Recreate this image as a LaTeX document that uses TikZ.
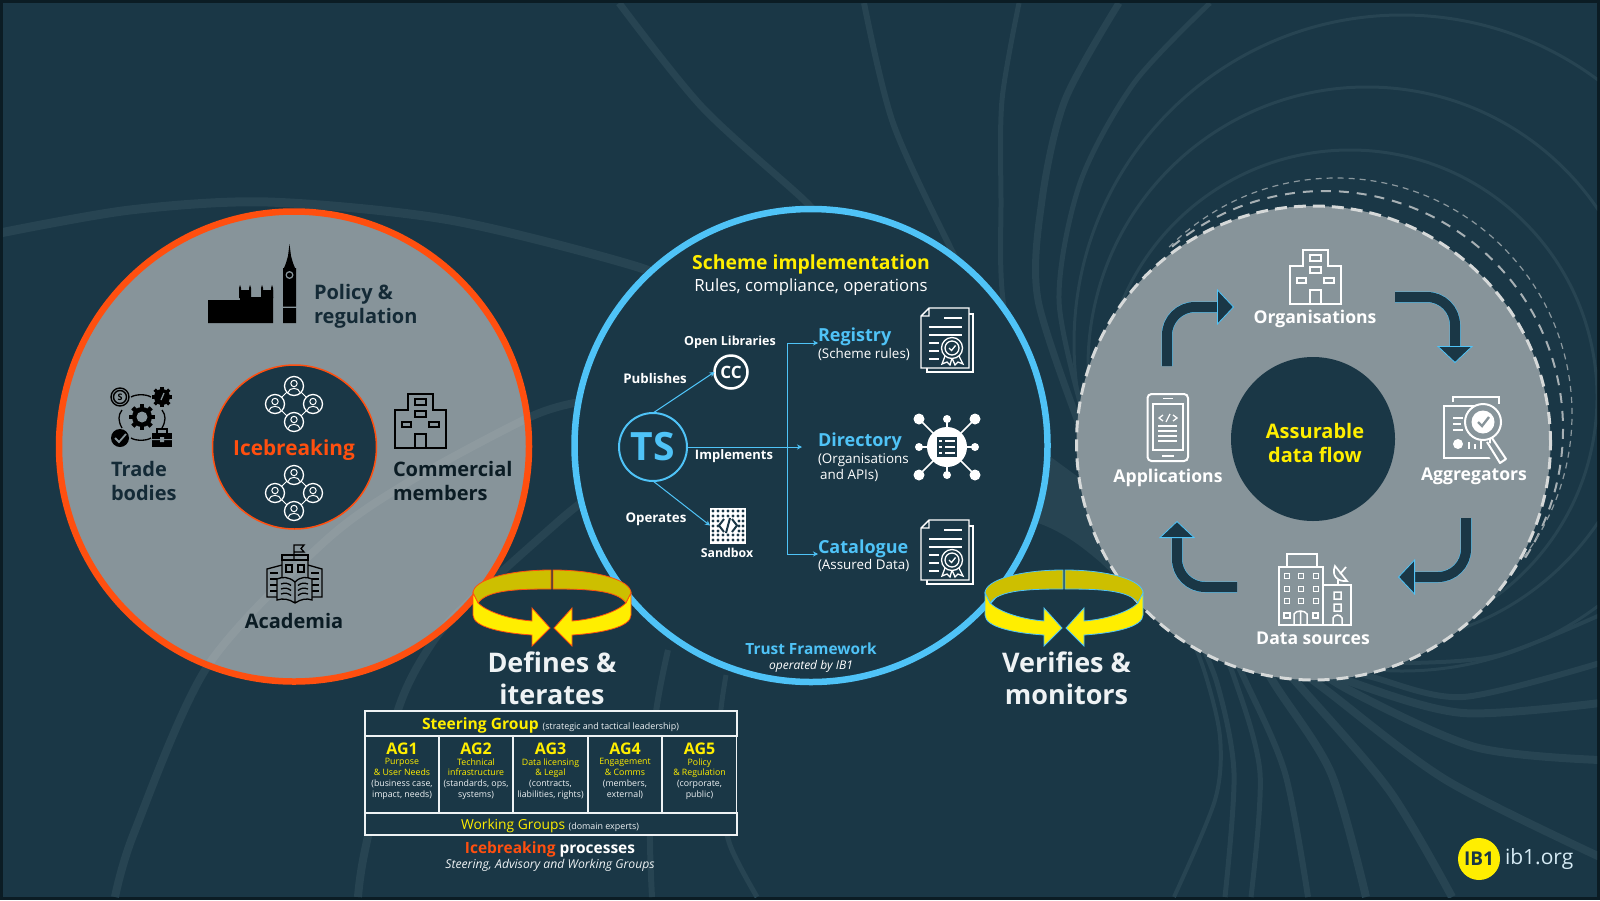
\documentclass[tikz,border=0pt]{standalone}
\usepackage{fontspec}
\setmainfont{Open Sans}
\usetikzlibrary{arrows.meta, positioning, calc}
\definecolor{BgDark}{RGB}{26, 55, 70}
\definecolor{FrameDark}{RGB}{11, 28, 36}
\definecolor{BandBlue}{RGB}{39, 68, 82}
\definecolor{RingGray}{RGB}{135, 148, 154}
\definecolor{IceOrange}{RGB}{255, 79, 15}
\definecolor{SkyBlue}{RGB}{79, 195, 247}
\definecolor{MainYellow}{RGB}{255, 238, 0}
\definecolor{OliveYellow}{RGB}{205, 191, 0}
\definecolor{SoftWhite}{RGB}{238, 242, 244}
\definecolor{DashGray}{RGB}{214, 217, 217}
\definecolor{LabelDark}{RGB}{20, 42, 54}
\newcommand{\flowarrow}[1]{\draw[flowedge] #1; \draw[flowcore] #1;}

\begin{document}
\begin{tikzpicture}[
    x=1pt, y=-1pt,
    every node/.style={inner sep=0pt, outer sep=0pt, align=center},
    txt/.style 2 args={font=\fontsize{#1}{#2}\selectfont},
    btxt/.style 2 args={font=\bfseries\fontsize{#1}{#2}\selectfont},
    itxt/.style 2 args={font=\itshape\fontsize{#1}{#2}\selectfont},
    band/.style={draw=BandBlue, line width=#1},
    bigring/.style={circle, draw=#1, line width=6.5pt},
    thinarrow/.style={draw=SkyBlue, line width=1pt, -{Stealth[length=5pt, width=5pt]}},
    flowedge/.style={draw=SkyBlue, line width=11pt, rounded corners=28pt, shorten >=16pt},
    flowcore/.style={draw=BgDark, line width=10pt, rounded corners=28pt, -{Triangle[length=17pt, width=36pt, fill=BgDark, color=SkyBlue, line width=.8pt]}},
    tablecell/.style={draw=SoftWhite, line width=1.5pt, fill=BgDark},
    pics/buildingicon/.style={code={
        \draw[#1, line width=2pt, line join=miter] (13,16) -- (13,0) -- (38,0) -- (38,16) -- (51,16) -- (51,54) -- (0,54) -- (0,16) -- cycle;
        \draw[#1, line width=1.5pt] (20,5) rectangle (31,11) (20,17) rectangle (31,23) (7,28) rectangle (16,33) (34,28) rectangle (44,33) (20,54) -- (20,40) -- (31,40) -- (31,54);
    }},
    pics/peoplering/.style={code={
        \foreach \dx/\dy in {0/-18, 19/0, 0/18, -19/0} {
            \draw[white, line width=1.3pt] (\dx,\dy) circle (9.5);
            \draw[white, line width=1pt] (\dx,\dy-2.5) circle (3.2) (\dx-6,\dy+6.5) .. controls (\dx-5,\dy+1) and (\dx+5,\dy+1) .. (\dx+6,\dy+6.5);
        }
        \draw[white, line width=1pt] (7,-12) -- (12,-7) (12,7) -- (7,12) (-7,12) -- (-12,7) (-12,-7) -- (-7,-12);
    }},
    pics/gearicon/.style={code={
        \foreach \a in {0,45,...,315} {\fill[black, rotate=\a] (-#1*.22,-#1*1.3) rectangle (#1*.22,0);}
        \fill[black] (0,0) circle (#1);
    }},
    pics/certificon/.style={code={
        \draw[white, line width=1.3pt] (46,6) -- (52,6) -- (52,64) -- (6,64) -- (6,60);
        \draw[white, line width=1.4pt, fill=BgDark] (8,0) -- (48,0) -- (48,60) -- (0,60) -- (0,8) -- cycle (8,0) -- (8,8) -- (0,8);
        \draw[white, line width=1.3pt] (23,10) -- (41,10) (8,19) -- (41,19) (8,27) -- (41,27) (8,35) -- (18,35) (8,43) -- (18,43) (8,51) -- (18,51);
        \draw[white, line width=1.3pt, fill=BgDark] (24,48) -- (21,56) -- (26,54) -- (29,57) -- (31,50) -- (34,57) -- (37,54) -- (42,56) -- (38,48);
        \draw[white, line width=1.3pt, fill=BgDark] (31,40) circle (10.5) (31,40) circle (7);
        \draw[white, line width=1.3pt] (28,40) -- (30.5,42.5) -- (34.5,37.5);
    }},
    pics/ringloop/.style={code={
        \foreach \s in {1,-1} {
            \begin{scope}[xscale=\s, draw=#1, line width=.8pt]
                \filldraw[fill=OliveYellow] (-79,0) .. controls (-79,-13) and (-44,-23) .. (-1,-23) -- (-1,-4) .. controls (-35,-4) and (-65,-3) .. (-74,10) -- cycle;
                \filldraw[fill=MainYellow] (-74,10) .. controls (-66,18) and (-45,26) .. (-20,28) -- (-20,15) -- (-2,35) -- (-20,53) -- (-20,42) .. controls (-50,40) and (-79,34) .. (-79,22) -- (-79,0) -- cycle;
            \end{scope}
        }
    }}
]
\useasboundingbox (0,0) rectangle (1600,900);
\fill[FrameDark] (0,0) rectangle (1600,900);
\fill[BgDark] (3,3) rectangle (1597,897);

% background swirl
\begin{scope}
\clip (3,3) rectangle (1597,897);
\draw[band=3pt] (1402,343) circle (328);
\draw[band=3pt] (1367,366) circle (279);
\draw[band=3pt] (1350,397) circle (247);
\draw[band=5pt] plot[smooth] coordinates {(1019,3) (1002,100) (1001,200) (1003,300) (1030,450)};
\draw[band=7pt] plot[smooth] coordinates {(1119,3) (1065,100) (1042,200) (1038,300) (1085,440)};
\draw[band=5pt] plot[smooth] coordinates {(1210,3) (1134,83) (1080,183) (1059,300) (1085,420)};
\fill[BandBlue] (1048,455) -- (1085,482) -- (1130,590) -- (1100,562) .. controls (1080,545) and (1060,530) .. (1035,522) -- cycle;
\draw[band=4pt] plot[smooth] coordinates {(1180,610) (1204,670) (1220,737) (1215,800) (1174,897)};
\draw[band=5pt] plot[smooth] coordinates {(1190,620) (1217,683) (1234,773) (1225,897)};
\draw[band=5pt] plot[smooth] coordinates {(1205,610) (1234,677) (1260,773) (1251,897)};
\draw[band=6pt] plot[smooth] coordinates {(1215,620) (1245,680) (1285,773) (1308,897)};
\draw[band=8pt] plot[smooth] coordinates {(1225,600) (1274,683) (1331,773) (1366,897)};
\draw[band=8pt] plot[smooth] coordinates {(1240,620) (1297,683) (1389,790) (1452,897)};
\draw[band=8pt] plot[smooth] coordinates {(1260,640) (1326,690) (1446,780) (1600,857)};
\draw[band=8pt] plot[smooth] coordinates {(1290,650) (1349,690) (1475,747) (1600,760)};
\draw[band=8pt] plot[smooth] coordinates {(1280,650) (1354,683) (1463,713) (1600,703)};
\draw[band=6pt] plot[smooth] coordinates {(1300,655) (1372,677) (1463,697) (1600,663)};
\draw[band=4pt] plot[smooth] coordinates {(1340,660) (1412,663) (1500,655) (1600,615)};
\draw[band=7pt] plot[smooth] coordinates {(619,3) (702,107) (804,200) (830,230)};
\draw[band=6pt] plot[smooth] coordinates {(864,3) (893,123) (950,247) (975,290)};
\draw[band=9pt] plot[smooth] coordinates {(0,233) (130,210) (268,202) (450,220) (638,267) (690,295)};
\draw[band=8pt] plot[smooth] coordinates {(115,897) (134,833) (207,667) (323,543) (407,483) (530,417) (580,402)};
\draw[band=8pt] plot[smooth] coordinates {(358,897) (365,850) (398,710) (432,643) (471,600) (560,520) (585,500)};
\draw[band=6pt] plot[smooth] coordinates {(668,650) (655,720) (650,830) (652,897)};
\draw[band=5pt] plot[smooth] coordinates {(726,675) (720,720) (720,790) (730,845) (757,897)};
\end{scope}

% left circle
\node[bigring=IceOrange, fill=RingGray, minimum size=470pt] (policyCircle) at (294,446.5) {};
\begin{scope}
\clip (294,446.5) circle (231);
\draw[white, opacity=.06, line width=8pt] plot[smooth] coordinates {(115,897) (134,833) (207,667) (323,543) (407,483) (530,417) (580,402)};
\draw[white, opacity=.06, line width=8pt] plot[smooth] coordinates {(358,897) (365,850) (398,710) (432,643) (471,600) (560,520) (585,500)};
\end{scope}
\node[circle, draw=IceOrange, fill=BgDark, line width=1.5pt, minimum size=164pt] (iceCircle) at (294.5,447) {};
\pic at (294,404) {peoplering};
\pic at (294,493) {peoplering};
\node[btxt={20.8}{26}, IceOrange] (iceLabel) at (294,450.5) {Icebreaking};
\node[btxt={20}{24}, LabelDark, align=left, anchor=west] (policyLabel) at (314,306) {Policy \&\\regulation};
\node[btxt={20}{24}, LabelDark, align=left, anchor=west] (tradeLabel) at (111,481) {Trade\\bodies};
\node[btxt={20}{24}, FrameDark, align=left, anchor=west] (commercialLabel) at (393,481) {Commercial\\members};
\node[btxt={20}{24}, FrameDark] (academiaLabel) at (294,621) {Academia};
% parliament
\fill[black] (208,300) rectangle (273,323) (240,297) rectangle (273,300);
\foreach \x in {240,250,262,272} {\fill[black] (\x-1,298) -- (\x-1,288) -- (\x,285) -- (\x+1,288) -- (\x+1,298) -- cycle;}
\fill[black] (240,290) rectangle (250,298) (262,290) rectangle (273,298);
\fill[black] (283,308) rectangle (296,323) (283,268) rectangle (296,306.5);
\fill[black] (289.5,244) -- (291,256) -- (293,263) -- (295,268) -- (284,268) -- (286,263) -- (288,256) -- cycle;
\fill[RingGray] (289.5,275) circle (4);
\fill[black] (289.5,275) circle (2.5);
% trade bodies
\pic at (142,417) {gearicon=10};
\fill[RingGray] (142,417) circle (5.5);
\pic at (162,397) {gearicon=8};
\draw[RingGray, line width=1.3pt] (161,400) -- (164,393);
\draw[black, line width=1.4pt] (120,397) circle (9) (120,397) circle (6.5);
\node[btxt={9}{9}, black] (coinMark) at (120,397) {S};
\fill[black] (120,438) circle (9);
\draw[RingGray, line width=1.8pt] (115,438) -- (119,442) -- (126,434);
\fill[black] (152,433) rectangle (172,447);
\draw[black, line width=1.5pt] (157,433) -- (157,429) -- (167,429) -- (167,433);
\fill[RingGray] (152,439) rectangle (172,440) (160,437) rectangle (164,442);
\draw[black, line width=1.3pt] (131,397) .. controls (136,394) and (146,394) .. (151,397) (131,438) .. controls (136,441) and (146,441) .. (151,438);
\draw[black, line width=1.3pt] (122,410) .. controls (118,415) and (118,421) .. (122,428) (162,410) .. controls (166,415) and (166,421) .. (162,428);
% commercial members
\pic at (395,394) {buildingicon=black};
% academia
\begin{scope}[black, line width=1.3pt]
\draw (294,560) -- (294,545) -- (304,545) -- (301,548.5) -- (304,552) -- (294,552);
\draw (282,560) rectangle (308,555);
\draw (282,560) -- (282,597) -- (267,597) -- (267,569) -- (282,565) (308,560) -- (308,597) -- (322,597) -- (322,569) -- (308,565);
\foreach \y in {573,579,585,591} {\draw (270,\y) -- (278,\y) (311,\y) -- (319,\y);}
\draw (286,565) rectangle (292,572) (298,565) rectangle (304,572);
\draw[fill=RingGray] (295,582) .. controls (288,576) and (282,577) .. (277,579) -- (277,600) .. controls (283,598) and (289,599) .. (295,603) .. controls (301,599) and (307,598) .. (312,600) -- (312,579) .. controls (307,577) and (301,576) .. (295,582) -- cycle (295,582) -- (295,603);
\foreach \y in {584,589,594} {\draw (281,\y) .. controls (285,\y-1.5) and (288,\y-1) .. (291,\y+1.5) (308,\y) .. controls (304,\y-1.5) and (301,\y-1) .. (298,\y+1.5);}
\end{scope}

% middle circle
\node[bigring=SkyBlue, fill=BgDark, minimum size=473pt] (schemeCircle) at (811,445.5) {};
\node[btxt={19.4}{24}, MainYellow] (schemeTitle) at (811,264.5) {Scheme implementation};
\node[txt={16.8}{20}, white] (schemeSub) at (811,287) {Rules, compliance, operations};
\node[circle, draw=SkyBlue, line width=2pt, minimum size=68pt, btxt={39}{40}, text=SkyBlue] (tsHub) at (653,447) {TS};
\node[circle, draw=white, line width=2.5pt, minimum size=33pt, btxt={17}{18}, text=white] (ccLogo) at (731,372) {CC};
\node[fill=white, minimum size=36pt] (sandboxIcon) at (728,525.5) {};
\foreach \y in {511,516,535,540} {\foreach \x in {713,718,...,743} {\fill[BgDark] (\x,\y) circle (1.7);}}
\foreach \x in {713,718,739,743} {\fill[BgDark] (\x,521) circle (1.7) (\x,526) circle (1.7) (\x,531) circle (1.7);}
\draw[BgDark, line width=2pt] (724,519) -- (719,525.5) -- (724,532) (732,519) -- (737,525.5) -- (732,532) (730,518) -- (726,533);
\node[btxt={12.5}{14}, white] (openLibLabel) at (730,342) {Open Libraries};
\node[btxt={13.3}{14}, white] (publishLabel) at (655,379) {Publishes};
\node[btxt={13}{14}, white] (implementLabel) at (734,456.5) {Implements};
\node[btxt={13.3}{14}, white] (operateLabel) at (656,519.5) {Operates};
\node[btxt={12.3}{14}, white] (sandboxLabel) at (727,553) {Sandbox};
\coordinate (branchTop) at (787,447);
\coordinate (registryIn) at (818,343);
\coordinate (directoryIn) at (802,447);
\coordinate (catalogueIn) at (818,554);
\draw[thinarrow] (tsHub.north) -- (ccLogo.west);
\draw[thinarrow] (tsHub.east) -- (directoryIn);
\draw[thinarrow] (tsHub.south) -- (sandboxIcon.west);
\draw[thinarrow] (branchTop) |- (registryIn);
\draw[thinarrow] (branchTop) |- (catalogueIn);
\node[btxt={18}{22}, SkyBlue, anchor=west] (registryName) at (818,337) {Registry};
\node[txt={13.4}{16}, white, anchor=west] (registryNote) at (818,354) {(Scheme rules)};
\node[btxt={18}{22}, SkyBlue, anchor=west] (directoryName) at (818,442) {Directory};
\node[txt={13.4}{16}, white, align=left, anchor=west] (directoryNote) at (818,468) {(Organisations\\ \,and APIs)};
\node[btxt={18}{22}, SkyBlue, anchor=west] (catalogueName) at (818,549) {Catalogue};
\node[txt={13.4}{16}, white, anchor=west] (catalogueNote) at (818,565.5) {(Assured Data)};
\pic at (921,308) {certificon};
\pic at (921,520) {certificon};
% directory hub
\foreach \dx/\dy/\r in {-28/-28/5.5, 0/-28/4, 28/-28/5.5, -28/0/4, 28/0/4, -28/28/5.5, 0/28/4, 28/28/5.5} {
    \draw[white, line width=1.6pt] (947,447) -- ++(\dx,\dy);
    \fill[white] (947+\dx,447+\dy) circle (\r);
}
\fill[white] (947,447) circle (20);
\fill[BgDark] (937,437) rectangle (957,457);
\draw[white, line width=1.5pt] (939,441) -- (942,441) (945,441) -- (955,441) (939,447) -- (942,447) (945,447) -- (955,447) (939,453) -- (942,453) (945,453) -- (955,453);
\node[btxt={15.4}{20}, SkyBlue] (trustLabel) at (811,649) {Trust Framework};
\node[itxt={12}{14}, white] (operatedLabel) at (811,666.5) {operated by IB1};

% right circle
\draw[DashGray!75!BgDark, line width=2pt, dash pattern=on 10pt off 8pt] (1325,429) ++(-130:238) arc[start angle=-130, end angle=34, radius=238];
\draw[DashGray!60!BgDark, line width=1.2pt, dash pattern=on 6pt off 5pt] (1336,414) ++(-135:236) arc[start angle=-135, end angle=38, radius=236];
\node[circle, draw=DashGray, fill=RingGray, line width=3pt, dash pattern=on 12pt off 7pt, minimum size=474pt] (flowCircle) at (1313.5,443) {};
\node[circle, fill=BgDark, minimum size=164pt] (flowCore) at (1313,439) {};
\node[btxt={20}{24}, MainYellow] (flowLabel) at (1315,442.5) {Assurable\\data flow};
\pic at (1290,250) {buildingicon=white};
\node[btxt={17.6}{20}, white] (orgLabel) at (1315,319) {Organisations};
\node[btxt={17.6}{20}, white] (appLabel) at (1168,478) {Applications};
\node[btxt={17.6}{20}, white] (aggLabel) at (1474,476) {Aggregators};
\node[btxt={17.6}{20}, white] (dataLabel) at (1313,638) {Data sources};
\coordinate (appsOut) at (1167,366);
\coordinate (orgIn) at (1234,307);
\coordinate (orgOut) at (1395,297);
\coordinate (aggIn) at (1455,363);
\coordinate (aggOut) at (1466,518);
\coordinate (dataIn) at (1398,577);
\coordinate (dataOut) at (1237,587);
\coordinate (appsIn) at (1177,521);
\flowarrow{(appsOut) |- (orgIn)}
\flowarrow{(orgOut) -| (aggIn)}
\flowarrow{(aggOut) |- (dataIn)}
\flowarrow{(dataOut) -| (appsIn)}
% applications phone
\begin{scope}[white]
\draw[line width=2pt, rounded corners=4pt] (1147.5,394) rectangle (1188,461);
\draw[line width=1.5pt] (1153,404) rectangle (1183,450);
\draw[line width=1.5pt] (1163,395) ++(0,3.5) -- ++(10,0) (1162,456) -- (1174,456);
\draw[line width=1.3pt] (1163,415) -- (1159,418) -- (1163,421) (1173,415) -- (1177,418) -- (1173,421) (1170,414) -- (1166,422);
\draw[line width=1.3pt] (1158,426) -- (1177,426) (1158,431) -- (1177,431) (1158,436) -- (1177,436) (1158,441) -- (1177,441);
\end{scope}
% aggregators
\begin{scope}[white]
\draw[line width=2.5pt] (1453,402) -- (1453,397) -- (1499,397) -- (1499,404);
\draw[line width=2.5pt, fill=RingGray] (1444,406) rectangle (1490,458);
\fill[RingGray] (1500,445) -- (1494,464) -- (1486,452) -- (1470,440) -- cycle;
\draw[line width=2pt] (1453,418) -- (1463,418) (1453,424) -- (1461,424) (1453,430) -- (1463,430);
\fill (1458,444) circle (5);
\draw[line width=2pt] (1469,449) -- (1469,442) (1475,449) -- (1475,444) (1481,449) -- (1481,441);
\draw[line width=2pt, fill=RingGray] (1483,422) circle (18);
\fill (1483,422) circle (11.5);
\draw[RingGray, line width=2.4pt] (1478,422) -- (1482,426) -- (1489,417);
\draw[line width=2pt, line join=round] (1492,438) -- (1506,459) -- (1500,463) -- (1487,442);
\end{scope}
% data sources
\begin{scope}[white, line width=2pt]
\draw (1287,567) -- (1287,554) -- (1317,554) -- (1317,567);
\draw (1279,567) rectangle (1323,625);
\draw (1323,585) rectangle (1351,625);
\foreach \x in {1287,1301,1316} {\foreach \y in {576,589,601} {\draw[line width=1.8pt] (\x-2.5,\y-2.5) rectangle (\x+2.5,\y+2.5);}}
\draw[line width=1.8pt] (1284,613) rectangle (1290,618) (1313,613) rectangle (1318,618);
\draw[line width=1.5pt] (1294,625) -- (1294,614) .. controls (1296,610) and (1305,610) .. (1307,614) -- (1307,625) (1300.5,612) -- (1300.5,625);
\draw[line width=1.5pt] (1334,592) rectangle (1341,599) (1334,604) rectangle (1341,611) (1333,625) -- (1333,618) .. controls (1335,614) and (1340,614) .. (1342,618) -- (1342,625);
\draw[line width=1.7pt] (1335,566) .. controls (1331,576) and (1338,582) .. (1347,581) -- cycle (1340,574) -- (1346,567) (1338,580) -- (1338,585);
\end{scope}

% loops and table
\pic at (552,593) {ringloop=IceOrange};
\pic at (1064,593) {ringloop=SkyBlue};
\node[btxt={27}{31.5}, SoftWhite] (definesLabel) at (552,678.5) {Defines \&\\iterates};
\node[btxt={27}{31.5}, SoftWhite] (verifiesLabel) at (1066.5,678.5) {Verifies \&\\monitors};
\node[tablecell, minimum width=372pt, minimum height=25pt] (steerCell) at (551,723.5) {};
\node[tablecell, minimum width=372pt, minimum height=22pt] (workCell) at (551,824) {};
\foreach \name/\x/\agname/\la/\lb/\lc/\ld in {
    agOne/402/AG1/Purpose/\& User Needs/{(business case,}/{impact, needs)},
    agTwo/476/AG2/Technical/infrastructure/{(standards, ops,}/systems),
    agThree/550.5/AG3/Data licensing/\& Legal/{(contracts,}/{liabilities, rights)},
    agFour/625/AG4/Engagement/\& Comms/{(members,}/external),
    agFive/699.5/AG5/Policy/\& Regulation/{(corporate,}/public)} {
    \node[tablecell, minimum width=74pt, minimum height=77pt] (\name Cell) at (\x,774.5) {};
    \node[btxt={16}{18}, MainYellow] (\name Head) at (\x,749) {\agname};
    \node[txt={8.8}{10.8}, MainYellow, anchor=north] (\name Text) at (\x,758.5) {\la\\\lb};
    \node[txt={8.8}{10.8}, SoftWhite, anchor=north] (\name Note) at (\x,780) {\lc\\\ld};
}
\node[btxt={15.6}{18}, MainYellow] (steerLabel) at (550.5,725) {Steering Group {\mdseries\fontsize{8.9}{10}\selectfont\color{SoftWhite}(strategic and tactical leadership)}};
\node[txt={13.8}{18}, MainYellow] (workLabel) at (550,825.5) {Working Groups {\fontsize{8.9}{10}\selectfont\color{SoftWhite}(domain experts)}};
\node[btxt={15.5}{18}, white] (processLabel) at (550,849) {\textcolor{IceOrange}{Icebreaking} processes};
\node[itxt={12.2}{14}, SoftWhite] (processSub) at (550,865) {Steering, Advisory and Working Groups};

% logo
\node[circle, fill=MainYellow, minimum size=42pt, btxt={19}{20}, text=BgDark] (logoBadge) at (1479,859) {IB1};
\node[txt={21}{24}, right=5pt of logoBadge, text=SoftWhite!85!SkyBlue] (logoSite) {ib1.org};
\end{tikzpicture}
\end{document}
